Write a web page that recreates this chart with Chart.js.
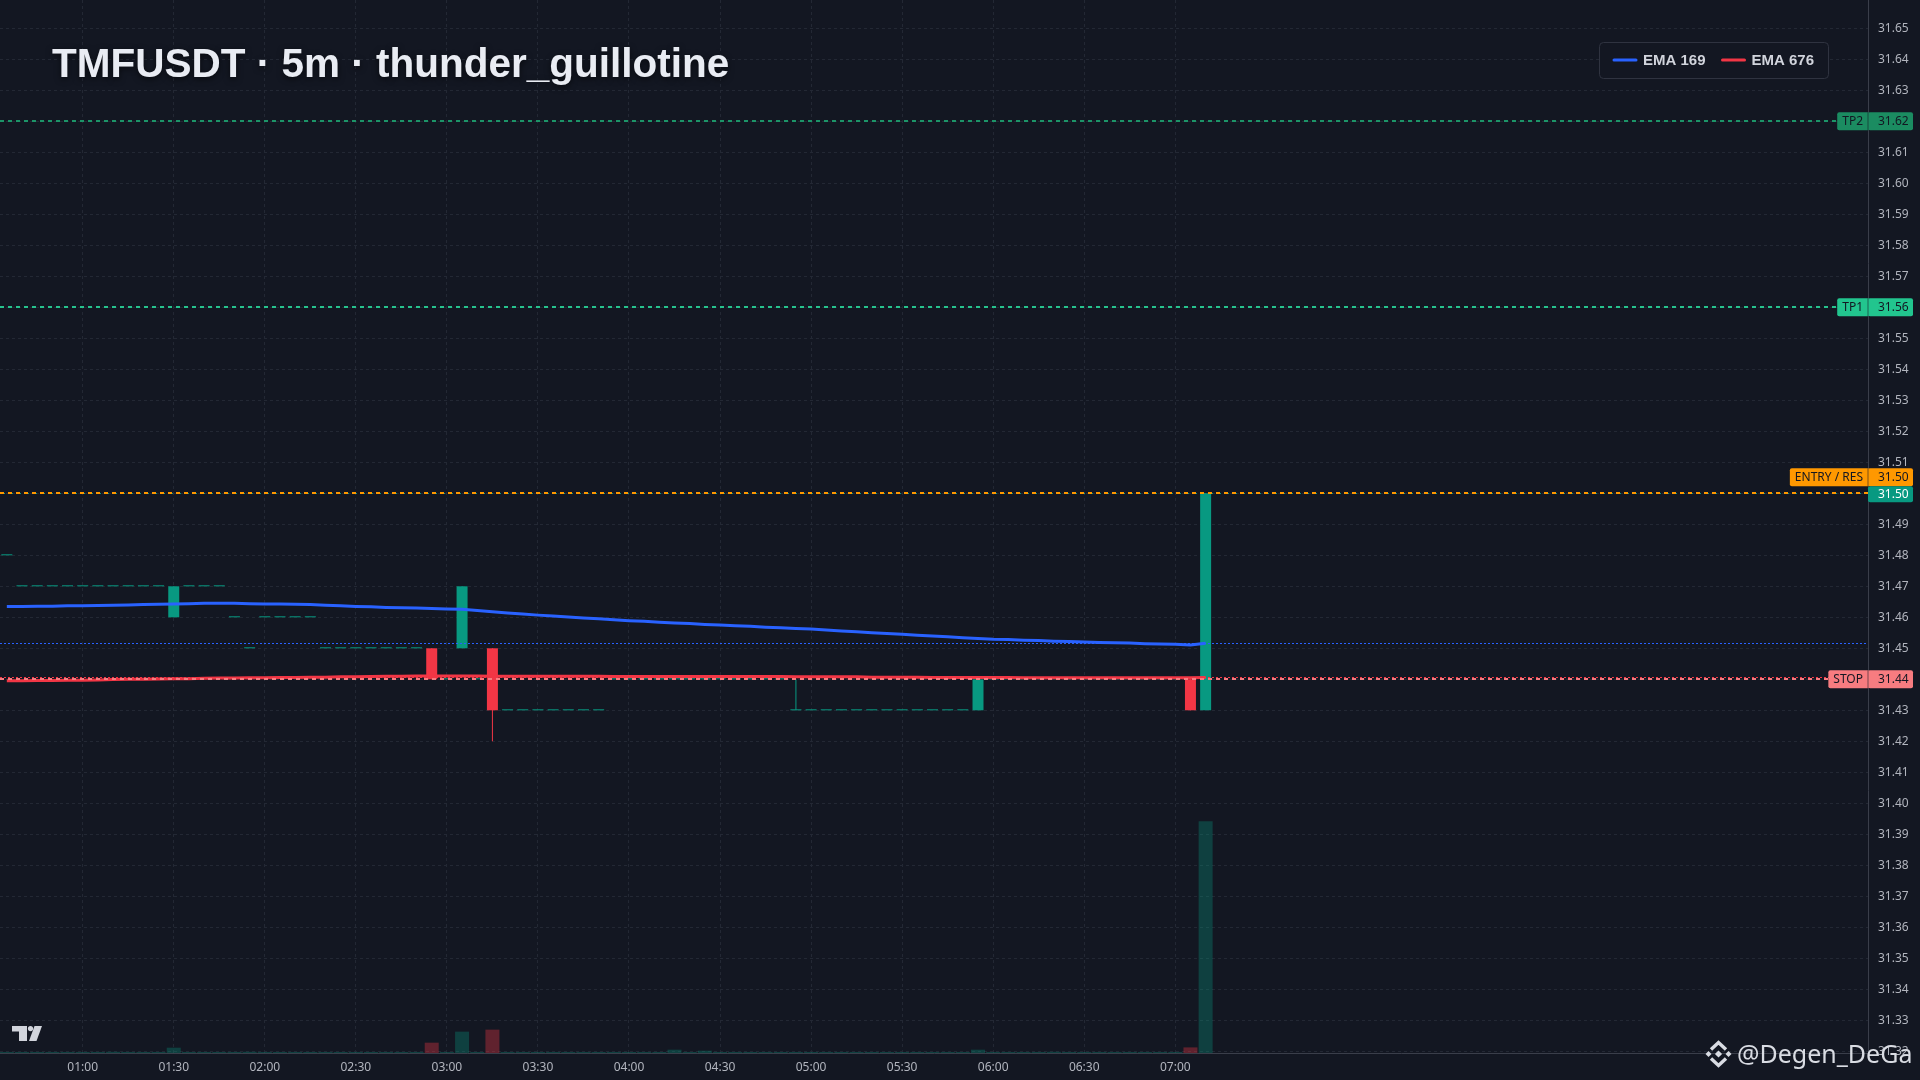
<!DOCTYPE html>
<html>
<head>
<meta charset="utf-8">
<title>TMFUSDT · 5m · thunder_guillotine</title>
<script src="https://cdn.jsdelivr.net/npm/chart.js@4.4.1/dist/chart.umd.min.js"></script>
<style>
  html, body { margin: 0; padding: 0; background: #131722; overflow: hidden; }
  #wrap { width: 1920px; height: 1080px; }
</style>
</head>
<body>
<div id="wrap"><canvas id="myChart" width="1920" height="1080"></canvas></div>
<script>
// 5m bars, 00:35 -> 07:10
var candleTimes = [
  '00:35', '00:40', '00:45', '00:50', '00:55', '01:00', '01:05', '01:10', '01:15', '01:20',
  '01:25', '01:30', '01:35', '01:40', '01:45', '01:50', '01:55', '02:00', '02:05', '02:10',
  '02:15', '02:20', '02:25', '02:30', '02:35', '02:40', '02:45', '02:50', '02:55', '03:00',
  '03:05', '03:10', '03:15', '03:20', '03:25', '03:30', '03:35', '03:40', '03:45', '03:50',
  '03:55', '04:00', '04:05', '04:10', '04:15', '04:20', '04:25', '04:30', '04:35', '04:40',
  '04:45', '04:50', '04:55', '05:00', '05:05', '05:10', '05:15', '05:20', '05:25', '05:30',
  '05:35', '05:40', '05:45', '05:50', '05:55', '06:00', '06:05', '06:10', '06:15', '06:20',
  '06:25', '06:30', '06:35', '06:40', '06:45', '06:50', '06:55', '07:00', '07:05', '07:10'
];

var opens = [
  31.48, 31.47, 31.47, 31.47, 31.47, 31.47, 31.47, 31.47, 31.47, 31.47,
  31.47, 31.46, 31.47, 31.47, 31.47, 31.46, 31.45, 31.46, 31.46, 31.46,
  31.46, 31.45, 31.45, 31.45, 31.45, 31.45, 31.45, 31.45, 31.45, 31.44,
  31.45, 31.44, 31.45, 31.43, 31.43, 31.43, 31.43, 31.43, 31.43, 31.43,
  31.44, 31.44, 31.44, 31.44, 31.44, 31.44, 31.44, 31.44, 31.44, 31.44,
  31.44, 31.44, 31.43, 31.43, 31.43, 31.43, 31.43, 31.43, 31.43, 31.43,
  31.43, 31.43, 31.43, 31.43, 31.43, 31.44, 31.44, 31.44, 31.44, 31.44,
  31.44, 31.44, 31.44, 31.44, 31.44, 31.44, 31.44, 31.44, 31.44, 31.43
];

var highs = [
  31.48, 31.47, 31.47, 31.47, 31.47, 31.47, 31.47, 31.47, 31.47, 31.47,
  31.47, 31.47, 31.47, 31.47, 31.47, 31.46, 31.45, 31.46, 31.46, 31.46,
  31.46, 31.45, 31.45, 31.45, 31.45, 31.45, 31.45, 31.45, 31.45, 31.44,
  31.47, 31.44, 31.45, 31.43, 31.43, 31.43, 31.43, 31.43, 31.43, 31.43,
  31.44, 31.44, 31.44, 31.44, 31.44, 31.44, 31.44, 31.44, 31.44, 31.44,
  31.44, 31.44, 31.44, 31.43, 31.43, 31.43, 31.43, 31.43, 31.43, 31.43,
  31.43, 31.43, 31.43, 31.43, 31.44, 31.44, 31.44, 31.44, 31.44, 31.44,
  31.44, 31.44, 31.44, 31.44, 31.44, 31.44, 31.44, 31.44, 31.44, 31.50
];

var lows = [
  31.48, 31.47, 31.47, 31.47, 31.47, 31.47, 31.47, 31.47, 31.47, 31.47,
  31.47, 31.46, 31.47, 31.47, 31.47, 31.46, 31.45, 31.46, 31.46, 31.46,
  31.46, 31.45, 31.45, 31.45, 31.45, 31.45, 31.45, 31.45, 31.44, 31.44,
  31.45, 31.44, 31.42, 31.43, 31.43, 31.43, 31.43, 31.43, 31.43, 31.43,
  31.44, 31.44, 31.44, 31.44, 31.44, 31.44, 31.44, 31.44, 31.44, 31.44,
  31.44, 31.44, 31.43, 31.43, 31.43, 31.43, 31.43, 31.43, 31.43, 31.43,
  31.43, 31.43, 31.43, 31.43, 31.43, 31.44, 31.44, 31.44, 31.44, 31.44,
  31.44, 31.44, 31.44, 31.44, 31.44, 31.44, 31.44, 31.44, 31.43, 31.43
];

var closes = [
  31.48, 31.47, 31.47, 31.47, 31.47, 31.47, 31.47, 31.47, 31.47, 31.47,
  31.47, 31.47, 31.47, 31.47, 31.47, 31.46, 31.45, 31.46, 31.46, 31.46,
  31.46, 31.45, 31.45, 31.45, 31.45, 31.45, 31.45, 31.45, 31.44, 31.44,
  31.47, 31.44, 31.43, 31.43, 31.43, 31.43, 31.43, 31.43, 31.43, 31.43,
  31.44, 31.44, 31.44, 31.44, 31.44, 31.44, 31.44, 31.44, 31.44, 31.44,
  31.44, 31.44, 31.43, 31.43, 31.43, 31.43, 31.43, 31.43, 31.43, 31.43,
  31.43, 31.43, 31.43, 31.43, 31.44, 31.44, 31.44, 31.44, 31.44, 31.44,
  31.44, 31.44, 31.44, 31.44, 31.44, 31.44, 31.44, 31.44, 31.43, 31.50
];

var volumes = [
  8, 8, 8, 8, 8, 8, 8, 12, 8, 8,
  8, 53, 8, 8, 8, 8, 12, 8, 8, 8,
  8, 8, 8, 8, 8, 8, 8, 8, 103, 8,
  213, 8, 233, 8, 8, 8, 8, 8, 8, 8,
  8, 8, 8, 8, 33, 8, 23, 8, 8, 8,
  8, 8, 10, 8, 8, 8, 8, 8, 8, 8,
  8, 8, 8, 8, 33, 8, 8, 8, 8, 12,
  8, 8, 8, 8, 8, 8, 8, 8, 56, 2310
];

var ema169 = [
  31.4635, 31.4635, 31.4636, 31.4636, 31.4637, 31.4637, 31.4638, 31.4639, 31.4640, 31.4641,
  31.4642, 31.4643, 31.4644, 31.4645, 31.4645, 31.4645, 31.4644, 31.4643, 31.4643, 31.4642,
  31.4641, 31.4639, 31.4637, 31.4635, 31.4634, 31.4632, 31.4631, 31.4630, 31.4628, 31.4627,
  31.4626, 31.4622, 31.4618, 31.4614, 31.4611, 31.4607, 31.4604, 31.4601, 31.4598, 31.4595,
  31.4592, 31.4589, 31.4587, 31.4584, 31.4582, 31.4580, 31.4577, 31.4575, 31.4573, 31.4571,
  31.4568, 31.4566, 31.4564, 31.4562, 31.4559, 31.4556, 31.4553, 31.4550, 31.4548, 31.4545,
  31.4542, 31.4540, 31.4537, 31.4534, 31.4532, 31.4529, 31.4528, 31.4526, 31.4525, 31.4523,
  31.4522, 31.4520, 31.4519, 31.4518, 31.4517, 31.4515, 31.4514, 31.4513, 31.4511, 31.4516
];

var ema676 = [
  31.4395, 31.4395, 31.4396, 31.4396, 31.4397, 31.4397, 31.4398, 31.4399, 31.4400, 31.4400,
  31.4401, 31.4402, 31.4402, 31.4403, 31.4404, 31.4404, 31.4405, 31.4405, 31.4406, 31.4406,
  31.4407, 31.4407, 31.4408, 31.4408, 31.4409, 31.4410, 31.4410, 31.4411, 31.4411, 31.4411,
  31.4411, 31.4411, 31.4410, 31.4410, 31.4410, 31.4410, 31.4410, 31.4410, 31.4410, 31.4410,
  31.4409, 31.4409, 31.4409, 31.4409, 31.4409, 31.4409, 31.4409, 31.4409, 31.4409, 31.4409,
  31.4409, 31.4409, 31.4408, 31.4408, 31.4408, 31.4408, 31.4408, 31.4407, 31.4407, 31.4407,
  31.4407, 31.4406, 31.4406, 31.4406, 31.4406, 31.4406, 31.4406, 31.4405, 31.4405, 31.4405,
  31.4405, 31.4405, 31.4405, 31.4405, 31.4405, 31.4405, 31.4405, 31.4405, 31.4405, 31.4406
];

// strategy levels
var levelNames = ['TP2', 'TP1', 'ENTRY / RES', 'STOP'];
var levelPrices = [31.62, 31.56, 31.50, 31.44];

// axis ticks
var timeTicks = ['01:00', '01:30', '02:00', '02:30', '03:00', '03:30', '04:00',
                 '04:30', '05:00', '05:30', '06:00', '06:30', '07:00'];
var priceTicks = [31.32, 31.33, 31.34, 31.35, 31.36, 31.37, 31.38, 31.39, 31.40, 31.41, 31.42,
                  31.43, 31.44, 31.45, 31.46, 31.47, 31.48, 31.49, 31.50, 31.51, 31.52, 31.53,
                  31.54, 31.55, 31.56, 31.57, 31.58, 31.59, 31.60, 31.61, 31.62, 31.63, 31.64, 31.65];

var BG = '#131722';
var UP = '#089981', DOWN = '#f23645';
var TAG_PAD = 5;
var levelStyle = {
  'TP2': { line: '#1c9468', bg: '#1b8c61', end: 'tag' },
  'TP1': { line: '#26c28d', bg: '#22c58e', end: 'tag' },
  'ENTRY / RES': { line: '#ff9800', bg: '#ff9800', end: 'axis', shift: -16 },
  'STOP': { line: '#f77c80', bg: '#f77c80', end: 'tag' }
};

function toMin(s) { var p = s.split(':'); return (+p[0]) * 60 + (+p[1]); }
function fmtTime(m) {
  var h = Math.floor(m / 60), mm = Math.round(m % 60);
  return (h < 10 ? '0' : '') + h + ':' + (mm < 10 ? '0' : '') + mm;
}

var candleX = candleTimes.map(toMin);
var isUp = candleX.map(function (x, i) { return closes[i] >= opens[i]; });
var last = candleX.length - 1;

function roundRect(ctx, x, y, w, h, r) {
  ctx.beginPath();
  ctx.moveTo(x + r, y);
  ctx.lineTo(x + w - r, y);
  ctx.quadraticCurveTo(x + w, y, x + w, y + r);
  ctx.lineTo(x + w, y + h - r);
  ctx.quadraticCurveTo(x + w, y + h, x + w - r, y + h);
  ctx.lineTo(x + r, y + h);
  ctx.quadraticCurveTo(x, y + h, x, y + h - r);
  ctx.lineTo(x, y + r);
  ctx.quadraticCurveTo(x, y, x + r, y);
  ctx.closePath();
}

var LABEL_FONT = '12px "Noto Sans"';

var overlay = {
  id: 'overlay',
  beforeDraw: function (chart) {
    var ctx = chart.ctx;
    ctx.save();
    ctx.fillStyle = BG;
    ctx.fillRect(0, 0, chart.width, chart.height);
    ctx.restore();
  },
  afterDatasetsDraw: function (chart) {
    var ctx = chart.ctx, area = chart.chartArea, ys = chart.scales.y;
    function hline(price, color, width, dash, x1) {
      var y = Math.round(ys.getPixelForValue(price)) + (width % 2 ? 0.5 : 0);
      ctx.save();
      ctx.strokeStyle = color;
      ctx.lineWidth = width;
      ctx.setLineDash(dash);
      ctx.beginPath();
      ctx.moveTo(area.left, y);
      ctx.lineTo(x1, y);
      ctx.stroke();
      ctx.restore();
    }
    // indicator price lines
    hline(ema169[last], '#2962ff', 1, [2, 2], area.right);
    hline(ema676[last], '#f23645', 1, [2, 2], area.right);
    hline(closes[last], UP, 1, [1, 3], area.right);
    // strategy levels
    ctx.save();
    ctx.font = LABEL_FONT;
    levelNames.forEach(function (name, i) {
      var st = levelStyle[name];
      var x1 = area.right;
      if (st.end === 'tag') x1 = area.right - (ctx.measureText(name).width + TAG_PAD * 2);
      hline(levelPrices[i], st.line, 2, [4, 4], x1);
    });
    ctx.restore();
  },
  afterDraw: function (chart) {
    var ctx = chart.ctx, area = chart.chartArea, ys = chart.scales.y;
    ctx.save();

    // right-hand level tags
    function tag(yc, name, value, bg, fg, valueBg, valueFg) {
      var h = 18;
      ctx.font = LABEL_FONT;
      ctx.textBaseline = 'middle';
      var valX0 = area.right, valX1 = area.right + 45;
      if (name) {
        var w = ctx.measureText(name).width + TAG_PAD * 2;
        ctx.fillStyle = bg;
        roundRect(ctx, area.right - w, yc - h / 2, w + 2, h, 2);
        ctx.fill();
        ctx.fillStyle = fg;
        ctx.textAlign = 'center';
        ctx.fillText(name, area.right - w / 2, yc + 0.5);
      }
      ctx.fillStyle = valueBg;
      roundRect(ctx, valX0, yc - h / 2, valX1 - valX0, h, 2);
      ctx.fill();
      ctx.fillStyle = valueFg;
      ctx.textAlign = 'left';
      ctx.fillText(value, area.right + 10, yc + 0.5);
      if (name) {
        ctx.fillStyle = 'rgba(19,23,34,0.55)';
        ctx.fillRect(area.right - 0.5, yc - h / 2, 1, h);
      }
    }
    levelNames.forEach(function (name, i) {
      var st = levelStyle[name];
      var yc = ys.getPixelForValue(levelPrices[i]) + (st.shift || 0);
      tag(yc, name, levelPrices[i].toFixed(2), st.bg, '#131722', st.bg, '#131722');
    });
    // last price tag
    var lp = ys.getPixelForValue(closes[last]) + 1;
    ctx.font = LABEL_FONT;
    ctx.fillStyle = UP;
    roundRect(ctx, area.right, lp - 8, 45, 16, 2);
    ctx.fill();
    ctx.fillStyle = '#ffffff';
    ctx.textAlign = 'left';
    ctx.textBaseline = 'middle';
    ctx.fillText(closes[last].toFixed(2), area.right + 10, lp + 0.5);

    // title
    ctx.font = 'bold 40.5px "Liberation Sans"';
    ctx.textAlign = 'left';
    ctx.textBaseline = 'alphabetic';
    ctx.shadowColor = 'rgba(0,0,0,0.6)';
    ctx.shadowBlur = 6;
    ctx.shadowOffsetY = 2;
    ctx.fillStyle = '#e9ecf3';
    ctx.fillText('TMFUSDT · 5m · thunder_guillotine', 52, 77);
    ctx.shadowColor = 'transparent';
    ctx.shadowBlur = 0;
    ctx.shadowOffsetY = 0;

    // legend box
    ctx.fillStyle = BG;
    roundRect(ctx, 1599.5, 42.5, 229, 36, 4);
    ctx.fill();
    ctx.strokeStyle = '#2f3340';
    ctx.lineWidth = 1;
    ctx.stroke();
    var lx = 1613;
    chart.data.datasets.slice(0, 2).forEach(function (ds) {
      ctx.strokeStyle = ds.borderColor;
      ctx.lineWidth = 3;
      ctx.lineCap = 'round';
      ctx.beginPath();
      ctx.moveTo(lx + 1, 60);
      ctx.lineTo(lx + 23, 60);
      ctx.stroke();
      ctx.font = 'bold 15px "Liberation Sans"';
      ctx.fillStyle = '#d1d4dc';
      ctx.textBaseline = 'middle';
      ctx.fillText(ds.label, lx + 30, 60.5);
      lx += 30 + ctx.measureText(ds.label).width + 16;
    });

    // TradingView mark, bottom left
    ctx.fillStyle = '#d1d4dc';
    ctx.fillRect(12, 1026, 15, 5.5);
    ctx.fillRect(19, 1026, 8, 15);
    ctx.beginPath();
    ctx.arc(30.5, 1028.6, 2.6, 0, Math.PI * 2);
    ctx.fill();
    ctx.beginPath();
    ctx.moveTo(34.5, 1026);
    ctx.lineTo(42, 1026);
    ctx.lineTo(36.5, 1041);
    ctx.lineTo(29, 1041);
    ctx.closePath();
    ctx.fill();

    // watermark, bottom right
    var cx = 1718.5, cy = 1054;
    ctx.fillStyle = '#d9dce3';
    ctx.strokeStyle = '#d9dce3';
    function diamond(x, y, r) {
      ctx.beginPath();
      ctx.moveTo(x, y - r); ctx.lineTo(x + r, y); ctx.lineTo(x, y + r); ctx.lineTo(x - r, y);
      ctx.closePath(); ctx.fill();
    }
    diamond(cx, cy, 3.6);
    diamond(cx - 10, cy, 3);
    diamond(cx + 10, cy, 3);
    ctx.lineWidth = 3.4;
    ctx.lineCap = 'butt';
    ctx.lineJoin = 'miter';
    ctx.beginPath();
    ctx.moveTo(cx - 7.5, cy - 4.5); ctx.lineTo(cx, cy - 11.5); ctx.lineTo(cx + 7.5, cy - 4.5);
    ctx.stroke();
    ctx.beginPath();
    ctx.moveTo(cx - 7.5, cy + 4.5); ctx.lineTo(cx, cy + 11.5); ctx.lineTo(cx + 7.5, cy + 4.5);
    ctx.stroke();
    ctx.font = '25px "Noto Sans"';
    ctx.textAlign = 'left';
    ctx.textBaseline = 'alphabetic';
    ctx.fillText('@Degen_DeGa', 1737, 1063);

    ctx.restore();
  }
};

var ctx = document.getElementById('myChart').getContext('2d');
var chart = new Chart(ctx, {
  type: 'bar',
  data: {
    datasets: [
      {
        type: 'line',
        label: 'EMA 169',
        data: candleX.map(function (x, i) { return { x: x, y: ema169[i] }; }),
        borderColor: '#2962ff',
        borderWidth: 3,
        pointRadius: 0,
        tension: 0,
        order: 0
      },
      {
        type: 'line',
        label: 'EMA 676',
        data: candleX.map(function (x, i) { return { x: x, y: ema676[i] }; }),
        borderColor: '#f23645',
        borderWidth: 3,
        pointRadius: 0,
        tension: 0,
        order: 1
      },
      {
        label: 'Bodies',
        data: candleX.map(function (x, i) { return { x: x, y: [opens[i], closes[i]] }; }),
        backgroundColor: isUp.map(function (u) { return u ? UP : DOWN; }),
        barThickness: 11,
        minBarLength: 1,
        grouped: false,
        inflateAmount: 0,
        borderWidth: 0,
        order: 2
      },
      {
        label: 'Wicks',
        data: candleX.map(function (x, i) { return { x: x, y: [lows[i], highs[i]] }; }),
        backgroundColor: isUp.map(function (u) { return u ? UP : DOWN; }),
        barThickness: 1,
        grouped: false,
        inflateAmount: 0,
        borderWidth: 0,
        order: 3
      },
      {
        label: 'Volume',
        yAxisID: 'yv',
        data: candleX.map(function (x, i) { return { x: x, y: volumes[i] }; }),
        backgroundColor: isUp.map(function (u) { return u ? 'rgba(8,153,129,0.32)' : 'rgba(242,54,69,0.35)'; }),
        barThickness: 14,
        minBarLength: 1,
        grouped: false,
        inflateAmount: 0,
        borderWidth: 0,
        order: 4
      }
    ]
  },
  options: {
    responsive: false,
    devicePixelRatio: 1,
    animation: false,
    events: [],
    layout: { padding: 0, autoPadding: false },
    plugins: { legend: { display: false }, tooltip: { enabled: false }, title: { display: false } },
    scales: {
      x: {
        type: 'linear',
        position: 'bottom',
        min: 32.75,
        max: 648.25,
        offset: false,
        afterBuildTicks: function (s) { s.ticks = timeTicks.map(function (t) { return { value: toMin(t) }; }); },
        afterFit: function (s) { s.height = 27; s.paddingLeft = 0; s.paddingRight = 0; },
        ticks: {
          callback: function (v) { return fmtTime(v); },
          color: '#b2b5be',
          font: { family: 'Noto Sans', size: 12 },
          padding: 7,
          maxRotation: 0,
          autoSkip: false
        },
        grid: { color: '#232834', drawTicks: false, offset: false },
        border: { display: true, color: '#3a3e4a', dash: [3, 3] }
      },
      y: {
        type: 'linear',
        position: 'right',
        min: 31.31945,
        max: 31.65913,
        afterBuildTicks: function (s) { s.ticks = priceTicks.map(function (v) { return { value: v }; }); },
        afterFit: function (s) { s.width = 52; s.paddingTop = 0; s.paddingBottom = 0; },
        ticks: {
          callback: function (v) { return v.toFixed(2); },
          color: '#b2b5be',
          font: { family: 'Noto Sans', size: 12 },
          padding: 10,
          autoSkip: false
        },
        grid: { color: '#232834', drawTicks: false },
        border: { display: true, color: '#3a3e4a', dash: [3, 3] }
      },
      yv: {
        type: 'linear', display: false, min: 0, max: 10500,
        afterFit: function (s) { s.paddingTop = 0; s.paddingBottom = 0; }
      }
    }
  },
  plugins: [overlay]
});
</script>
</body>
</html>
